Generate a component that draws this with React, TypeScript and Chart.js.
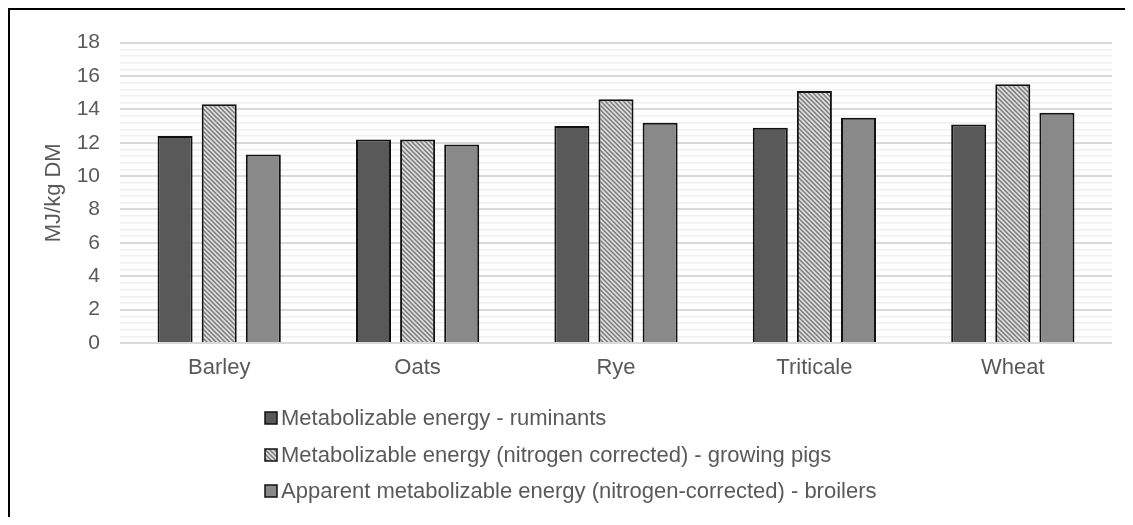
import { useEffect, useRef } from "react";
import { Chart, registerables } from "chart.js";

Chart.register(...registerables);

// Grain types along the x axis
const categories = ["Barley", "Oats", "Rye", "Triticale", "Wheat"];

// Energy values, MJ/kg dry matter
const ruminantsME = [12.4, 12.2, 13.0, 12.9, 13.1];
const growingPigsME = [14.3, 12.2, 14.6, 15.1, 15.5];
const broilersAME = [11.3, 11.9, 13.2, 13.5, 13.8];

const seriesLabels = [
  "Metabolizable energy - ruminants",
  "Metabolizable energy (nitrogen corrected) - growing pigs",
  "Apparent metabolizable energy (nitrogen-corrected) - broilers",
];

const yMin = 0;
const yMax = 18;
const majorStep = 2;
const minorStep = 0.4;
const yAxisTitle = "MJ/kg DM";

const FONT = "'Liberation Sans', Arial, Helvetica, sans-serif";
const TEXT = "#595959";
const OUTLINE = "#111111";

const isMajor = (v: number) => Math.abs(v / majorStep - Math.round(v / majorStep)) < 1e-6;

// Light grey fill with dark downward diagonal stripes
function makeHatch(): CanvasPattern | string {
  const s = 9;
  const period = 4.5;
  const c = document.createElement("canvas");
  c.width = s;
  c.height = s;
  const g = c.getContext("2d");
  if (!g) return "#bfbfbf";
  g.fillStyle = "#dedede";
  g.fillRect(0, 0, s, s);
  g.strokeStyle = "#7a7a7a";
  g.lineWidth = 1.5;
  for (let k = -3; k <= 3; k++) {
    g.beginPath();
    g.moveTo(-1, k * period - 1);
    g.lineTo(s + 1, s + k * period + 1);
    g.stroke();
  }
  return g.createPattern(c, "repeat") || "#bfbfbf";
}

// Legend drawn as three stacked rows under the plot
const stackedLegend = {
  id: "stackedLegend",
  afterDraw(chart: any) {
    const { ctx, chartArea, data } = chart;
    ctx.save();
    ctx.font = `22px ${FONT}`;
    const box = 12;
    const gap = 4;
    const widths = data.datasets.map((d: any) => ctx.measureText(d.label).width);
    const blockW = box + gap + Math.max(...widths);
    const left = Math.round((chart.width - blockW) / 2) + 3;
    data.datasets.forEach((ds: any, i: number) => {
      const y = Math.round(chartArea.bottom + 75 + i * 36.5);
      ctx.fillStyle = ds.backgroundColor;
      ctx.fillRect(left, y - box / 2, box, box);
      ctx.strokeStyle = OUTLINE;
      ctx.lineWidth = 1.5;
      ctx.strokeRect(left, y - box / 2, box, box);
      ctx.fillStyle = TEXT;
      ctx.textAlign = "left";
      ctx.textBaseline = "middle";
      ctx.fillText(ds.label, left + box + gap, y + 1);
    });
    ctx.restore();
  },
};

export default function App() {
  const canvasRef = useRef<HTMLCanvasElement | null>(null);

  useEffect(() => {
    const canvas = canvasRef.current;
    if (!canvas) return;
    const hatch = makeHatch();

    const chart = new Chart(canvas, {
      type: "bar",
      data: {
        labels: categories,
        datasets: [
          {
            label: seriesLabels[0],
            data: ruminantsME,
            backgroundColor: "#595959",
            borderColor: OUTLINE,
            borderWidth: 2,
          },
          {
            label: seriesLabels[1],
            data: growingPigsME,
            backgroundColor: hatch as any,
            borderColor: OUTLINE,
            borderWidth: 2,
          },
          {
            label: seriesLabels[2],
            data: broilersAME,
            backgroundColor: "#898989",
            borderColor: OUTLINE,
            borderWidth: 2,
          },
        ],
      },
      options: {
        responsive: false,
        animation: false,
        devicePixelRatio: 1,
        layout: { padding: { top: 27, right: 13, bottom: 124, left: 0 } },
        datasets: {
          bar: { categoryPercentage: 0.667, barPercentage: 0.794 },
        },
        plugins: {
          legend: { display: false },
          tooltip: { enabled: false },
        },
        scales: {
          x: {
            grid: { display: false, drawTicks: false },
            border: { display: false },
            ticks: {
              color: TEXT,
              font: { family: FONT, size: 22 },
              padding: 12,
              maxRotation: 0,
            },
            afterFit: (scale: any) => {
              scale.height = 50;
            },
          },
          y: {
            min: yMin,
            max: yMax,
            border: { display: false },
            grid: {
              drawTicks: false,
              color: (ctx: any) => (isMajor(ctx.tick.value) ? "#d9d9d9" : "#efefef"),
              lineWidth: (ctx: any) => (isMajor(ctx.tick.value) ? 2 : 1.5),
            },
            ticks: {
              stepSize: minorStep,
              maxTicksLimit: 100,
              autoSkip: false,
              color: TEXT,
              font: { family: FONT, size: 21 },
              padding: 20,
              callback: (v: any) => (isMajor(Number(v)) ? String(Math.round(Number(v))) : ""),
            },
            title: {
              display: true,
              text: yAxisTitle,
              color: TEXT,
              font: { family: FONT, size: 22 },
              padding: { top: 31, bottom: 0 },
            },
            afterFit: (scale: any) => {
              scale.width = 110;
            },
          },
        },
      },
      plugins: [stackedLegend],
    });

    return () => chart.destroy();
  }, []);

  return (
    <div
      style={{
        borderTop: "2px solid #000",
        borderLeft: "2px solid #000",
        background: "#fff",
      }}
    >
      <canvas ref={canvasRef} width={1115} height={507} style={{ display: "block" }} />
    </div>
  );
}
